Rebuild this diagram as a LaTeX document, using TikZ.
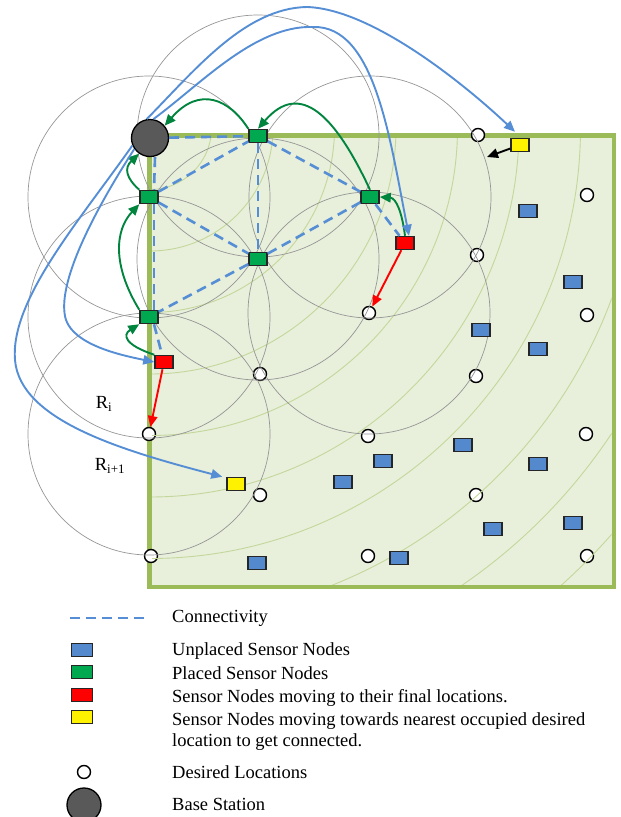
\documentclass[tikz,border=0pt]{standalone}
\usepackage{fontspec}
\setmainfont{Liberation Serif}
\usetikzlibrary{arrows.meta,calc}
\tikzset{>={Triangle[length=11pt,width=9.5pt]}}

\definecolor{fieldfill}{RGB}{232,239,219}
\definecolor{fieldedge}{RGB}{155,187,89}
\definecolor{ringcol}{RGB}{196,215,155}
\definecolor{rangecol}{RGB}{150,150,150}
\definecolor{conncol}{RGB}{85,142,213}
\definecolor{nodeblue}{RGB}{84,138,205}
\definecolor{placedgreen}{RGB}{0,168,80}
\definecolor{arrowgreen}{RGB}{0,132,62}
\definecolor{bsgrey}{RGB}{89,89,89}

\begin{document}
\begin{tikzpicture}[x=1pt,y=-1pt,font=\fontsize{18.5}{21}\selectfont,
  sensor/.style={draw=black!85,line width=1.5pt,minimum width=18pt,minimum height=13pt,inner sep=0pt},
  unplaced/.style={sensor,fill=nodeblue},
  placed/.style={sensor,fill=placedgreen},
  moving/.style={sensor,fill=red},
  seeking/.style={sensor,fill=yellow},
  desired/.style={circle,draw,fill=white,line width=1.4pt,minimum size=13pt,inner sep=0pt},
  station/.style={circle,draw,fill=bsgrey,line width=1.3pt,minimum size=37pt,inner sep=0pt},
  conn/.style={draw=conncol,line width=2.6pt,dash pattern=on 10pt off 6pt},
  hopring/.style={draw=ringcol,line width=0.9pt},
  sensing/.style={draw=rangecol,line width=0.7pt},
  route/.style={->,line width=1.9pt}]
\useasboundingbox (0,0) rectangle (621,817);

% deployment field
\fill[fieldfill] (149.5,135.5) rectangle (614,587);
\draw[fieldedge,line width=4.5pt] (149.5,135.5) rectangle (614,587);

% desired locations
\foreach \n/\x/\y in {1/478/135,2/587/195,3/477/255,4/369/313,5/587/315,
  6/260/374,7/476/376,8/149/434,9/368/436,10/586/434,11/260/495,
  12/476/495,13/151/556,14/368/556,15/587/556}
  \node[desired] (d\n) at (\x,\y) {};

% hop rings around the base station
\begin{scope}
\clip (152,138) rectangle (611.5,584.5);
\foreach \k in {1,...,10}
  \draw[hopring] (150,128) circle[radius=61.5pt*\k];
\end{scope}

% sensing ranges
\foreach \p in {{258,136},{149,197},{370,197},{258,259},{149,317},{369,313},{149,434}}
  \draw[sensing] (\p) circle[radius=121pt];

% unplaced sensors
\foreach \n/\x/\y in {1/528/211,2/573/282,3/481/330,4/538/349,5/463/445,
  6/383/461,7/343/482,8/538/464,9/493/529,10/573/523,11/399/558,12/257/563}
  \node[unplaced] (u\n) at (\x,\y) {};

\node[station] (bs) at (150,138) {};
\node[placed] (g1) at (258,136) {};
\node[placed] (g2) at (149,197) {};
\node[placed] (g3) at (370,197) {};
\node[placed] (g4) at (258,259) {};
\node[placed] (g5) at (149,317) {};
\node[moving] (r1) at (405,243) {};
\node[moving] (r2) at (164,362) {};
\node[seeking] (y1) at (520,145) {};
\node[seeking] (y2) at (236,484) {};
\coordinate (yt) at (487,157);

\node (ri) at (104,404) {R\textsubscript{i}};
\node (rj) at (110,466) {R\textsubscript{i+1}};

% connectivity
\draw[conn] (bs) -- (g1);
\draw[conn] ([xshift=5pt]bs.south) -- ([xshift=5pt]g2.north);
\draw[conn] ([xshift=5pt]g2.south) -- ([xshift=5pt]g5.north);
\draw[conn] ([xshift=5pt]g5.south) -- (r2);
\draw[conn] (g2) -- (g1);
\draw[conn] (g2) -- (g4);
\draw[conn] (g1) -- (g4);
\draw[conn] (g1) -- (g3);
\draw[conn] (g4) -- (g3);
\draw[conn] (g4) -- (g5);
\draw[conn] (g3) -- (r1);

% placed nodes hand over
\draw[route,arrowgreen] (g1.north west) .. controls (230,100) and (200,85) .. (bs.40);
\draw[route,arrowgreen] (g3.north) .. controls (335,115) and (300,80) .. (g1.north);
\draw[route,arrowgreen] (g2.north west) .. controls (126,178) and (124,168) .. (bs.235);
\draw[route,arrowgreen] (g5.north west) .. controls (112,265) and (115,230) .. (g2.south west);
\draw[route,arrowgreen] (r2.north west) .. controls (125,345) and (122,335) .. (g5.south west);
\draw[route,arrowgreen] (r1.north) .. controls (402,212) and (396,198) .. (g3.east);

% moving to final locations
\draw[route,red] (r1) -- (d4);
\draw[route,red] (r2) -- (d8);
\draw[route,black] (y1) -- (yt);

% base station calls
\draw[route,conncol] (bs.100) .. controls (195,70) and (245,8) .. (307,7)
  .. controls (370,9) and (460,80) .. ([xshift=-5pt,yshift=6pt]y1.north);
\draw[route,conncol] (bs.80) .. controls (200,85) and (255,25) .. (313,27)
  .. controls (375,25) and (390,140) .. ([xshift=4pt]r1.north);
\draw[route,conncol] (bs.203) .. controls (80,220) and (10,300) .. (15,360)
  .. controls (20,420) and (120,450) .. ([xshift=-4pt]y2.north west);
\draw[route,conncol] (bs.215) .. controls (95,210) and (55,285) .. (66,320)
  .. controls (75,345) and (120,355) .. (r2.west);

% legend
\tikzset{legtext/.style={anchor=west,inner sep=0pt,text height=13pt,text depth=4pt}}
\draw[conn] (70,618) -- (145,618);
\node[legtext] (l1) at (172,618) {Connectivity};
\node[unplaced,minimum width=21pt] (k1) at (82,650) {};
\node[legtext] (l2) at (172,651) {Unplaced Sensor Nodes};
\node[placed,minimum width=21pt] (k2) at (82,672) {};
\node[legtext] (l3) at (172,675) {Placed Sensor Nodes};
\node[moving,minimum width=21pt] (k3) at (82,695) {};
\node[legtext] (l4) at (172,698) {Sensor Nodes moving to their final locations.};
\node[seeking,minimum width=21pt] (k4) at (82,717) {};
\node[legtext] (l5) at (172,721) {Sensor Nodes moving towards nearest occupied desired};
\node[legtext] (l6) at (172,742) {location to get connected.};
\node[desired] (k5) at (84,772) {};
\node[legtext] (l7) at (172,774) {Desired Locations};
\node[station,minimum size=34pt] (k6) at (84,805) {};
\node[legtext] (l8) at (172,806) {Base Station};
\end{tikzpicture}
\end{document}
